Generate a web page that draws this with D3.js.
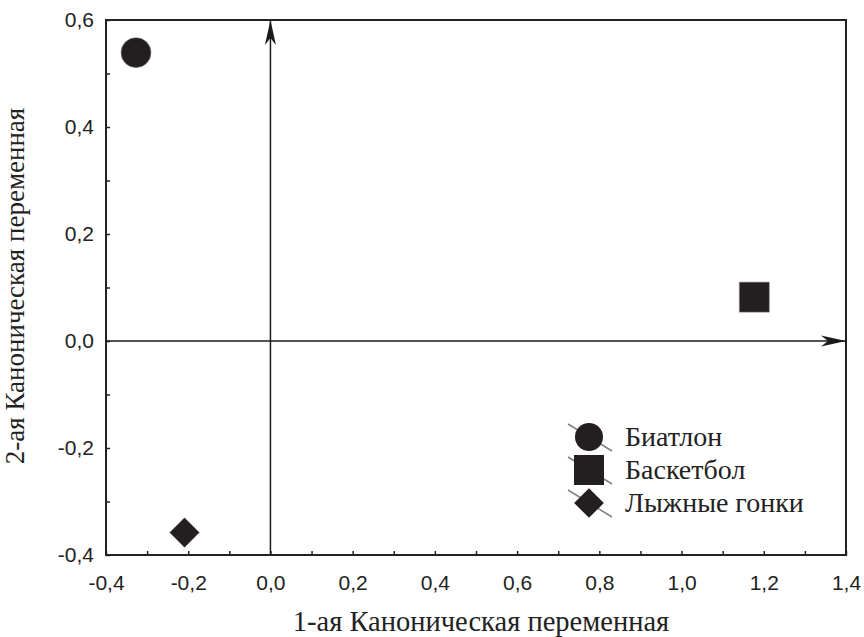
<!DOCTYPE html>
<html>
<head>
<meta charset="utf-8">
<script src="https://cdn.jsdelivr.net/npm/d3@7"></script>
<style>
  body { margin: 0; background: #fff; }
  svg { display: block; }
</style>
</head>
<body>
<div id="chart"></div>
<script>
// data
const groups = ["Биатлон", "Баскетбол", "Лыжные гонки"];
const canon1 = [-0.327, 1.177, -0.209];
const canon2 = [0.539, 0.082, -0.358];
const shapes = ["circle", "square", "diamond"];
const xTicks = [-0.4, -0.3, -0.2, -0.1, 0, 0.1, 0.2, 0.3, 0.4, 0.5, 0.6, 0.7, 0.8, 0.9, 1.0, 1.1, 1.2, 1.3, 1.4];
const yTicks = [-0.4, -0.3, -0.2, -0.1, 0, 0.1, 0.2, 0.3, 0.4, 0.5, 0.6];
const xTitle = "1-ая Каноническая переменная";
const yTitle = "2-ая Каноническая переменная";

const SERIF = "Liberation Serif";
const SANS = "Liberation Sans";

const W = 864, H = 637;
const margin = { top: 20, right: 18, bottom: 82, left: 106 };
const width = W - margin.left - margin.right;
const height = H - margin.top - margin.bottom;

const ru = d3.formatLocale({ decimal: ",", thousands: " ", grouping: [3], currency: ["", ""], minus: "-" });
const fmt = ru.format(".1f");
const isMajor = v => Math.abs(Math.round(v * 10)) % 2 === 0;

const svg = d3.select("#chart").append("svg")
  .attr("width", W)
  .attr("height", H);

const g = svg.append("g")
  .attr("transform", `translate(${margin.left},${margin.top})`);

const x = d3.scaleLinear().domain([-0.4, 1.4]).range([0, width]);
const y = d3.scaleLinear().domain([-0.4, 0.6]).range([height, 0]);

// arrow head
svg.append("defs").append("marker")
  .attr("id", "arrow")
  .attr("viewBox", "-26 -7 28 14")
  .attr("refX", 0)
  .attr("refY", 0)
  .attr("markerUnits", "userSpaceOnUse")
  .attr("markerWidth", 28)
  .attr("markerHeight", 14)
  .attr("orient", "auto")
  .append("path")
  .attr("d", "M0,0 L-25,-5.5 L-18,0 L-25,5.5 Z")
  .attr("fill", "#1a1a1a");

// axes
const xAxis = g.append("g")
  .attr("transform", `translate(0,${height})`)
  .call(d3.axisBottom(x).tickValues(xTicks).tickSizeInner(-4).tickSizeOuter(0).tickPadding(20)
    .tickFormat(d => isMajor(d) ? fmt(d) : ""));

const yAxis = g.append("g")
  .call(d3.axisLeft(y).tickValues(yTicks).tickSizeInner(-4).tickSizeOuter(0).tickPadding(12)
    .tickFormat(d => isMajor(d) ? fmt(d) : ""));

[xAxis, yAxis].forEach(a => {
  a.select(".domain").remove();
  a.selectAll(".tick line").attr("stroke", "#222").attr("stroke-width", 1.5);
  a.selectAll(".tick text")
    .attr("fill", "#222")
    .style("font-family", SANS)
    .style("font-size", "21px");
});

// frame
g.append("rect")
  .attr("width", width)
  .attr("height", height)
  .attr("fill", "none")
  .attr("stroke", "#222")
  .attr("stroke-width", 2);

// zero lines with arrows
g.append("line")
  .attr("x1", x(0)).attr("x2", x(0))
  .attr("y1", height).attr("y2", 0)
  .attr("stroke", "#1a1a1a").attr("stroke-width", 1.5)
  .attr("marker-end", "url(#arrow)");

g.append("line")
  .attr("x1", 0).attr("x2", width)
  .attr("y1", y(0)).attr("y2", y(0))
  .attr("stroke", "#1a1a1a").attr("stroke-width", 1.5)
  .attr("marker-end", "url(#arrow)");

// markers
const symbolFor = {
  circle: d3.symbol(d3.symbolCircle, Math.PI * 15 * 15),
  square: d3.symbol(d3.symbolSquare, 30 * 30),
  diamond: d3.symbol(d3.symbolSquare, 21 * 21)
};
const rotFor = { circle: 0, square: 0, diamond: 45 };

g.selectAll(".pt")
  .data(groups)
  .join("path")
  .attr("class", "pt")
  .attr("d", (d, i) => symbolFor[shapes[i]]())
  .attr("transform", (d, i) => `translate(${x(canon1[i])},${y(canon2[i])}) rotate(${rotFor[shapes[i]]})`)
  .attr("fill", "#231f20")
  .attr("stroke", "#888")
  .attr("stroke-width", 0.6);

// legend
const legend = svg.append("g").attr("transform", "translate(589,437)");
const rows = legend.selectAll("g")
  .data(groups)
  .join("g")
  .attr("transform", (d, i) => `translate(0,${i * 33})`);

rows.append("line")
  .attr("x1", -21).attr("y1", -13)
  .attr("x2", 23).attr("y2", 14)
  .attr("stroke", "#808080")
  .attr("stroke-width", 1.5);

rows.append("path")
  .attr("d", (d, i) => shapes[i] === "circle" ? d3.symbol(d3.symbolCircle, Math.PI * 14 * 14)() : symbolFor[shapes[i]]())
  .attr("transform", (d, i) => `rotate(${rotFor[shapes[i]]})`)
  .attr("fill", "#231f20");

rows.append("text")
  .attr("x", 36)
  .attr("y", 9)
  .attr("fill", "#222")
  .style("font-family", SERIF)
  .style("font-size", "28px")
  .text(d => d);

// axis titles
svg.append("text")
  .attr("x", 481)
  .attr("y", 631)
  .attr("text-anchor", "middle")
  .attr("fill", "#222")
  .style("font-family", SERIF)
  .style("font-size", "28.5px")
  .text(xTitle);

svg.append("text")
  .attr("transform", `translate(24,286) rotate(-90)`)
  .attr("text-anchor", "middle")
  .attr("fill", "#222")
  .style("font-family", SERIF)
  .style("font-size", "27px")
  .text(yTitle);
</script>
</body>
</html>
